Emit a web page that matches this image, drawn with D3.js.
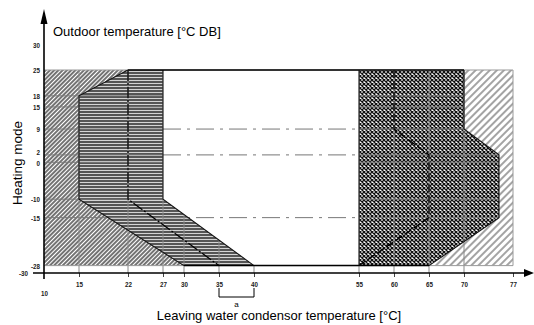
<!DOCTYPE html>
<html><head><meta charset="utf-8">
<script src="https://cdn.jsdelivr.net/npm/d3@7"></script>
<style>
html,body{margin:0;padding:0;background:#fff;}
svg{display:block;}
.tick text{font-family:"Liberation Sans",Arial,sans-serif;font-weight:bold;font-size:8px;fill:#1a1a1a;}
</style>
</head><body>
<svg id="chart" width="534" height="325"></svg>
<script>
// ---- data (chart units: x = leaving water temp °C, y = outdoor temp °C DB) ----
const xTicks = [10, 15, 22, 27, 30, 35, 40, 55, 60, 65, 70, 77];
const yTicks = [30, 25, 18, 15, 9, 2, 0, -10, -15, -28, -30];
const gridY = [18, 15, 9, 2, 0, -10, -15];
const gridX = [15, 22, 27, 30, 35, 40, 55, 60, 65, 70];
const dashDotY = [9, 2, -15];
const leftHatch = [[10,25],[22,25],[15,18],[15,-10],[30,-28],[10,-28]];
const striped   = [[22,25],[27,25],[27,-10],[40,-28],[30,-28],[15,-10],[15,18]];
const whiteZone = [[27,25],[55,25],[55,-28],[40,-28],[27,-10]];
const crossZone = [[55,25],[70,25],[70,9],[75,2],[75,-15],[65,-28],[55,-28]];
const rightHatch= [[70,25],[77,25],[77,-28],[65,-28],[75,-15],[75,2],[70,9]];
const lowLimitLine  = [[22,25],[22,-10],[35,-28]];
const highLimitLine = [[60,25],[60,9],[65,2],[65,-15],[55,-28]];
const stripedLeftEdge  = [[22,25],[15,18],[15,-10],[30,-28]];
const stripedRightEdge = [[27,25],[27,-10],[40,-28]];
const crossRightEdge   = [[70,25],[70,9],[75,2],[75,-15],[65,-28]];
const bracketRange = [35, 40];
const yTitle = "Outdoor temperature [°C DB]";
const xTitle = "Leaving water condensor temperature [°C]";
const sideTitle = "Heating mode";

// ---- scales ----
const xs = d3.scaleLinear().domain([10, 77]).range([44, 513]);
const ys = d3.scaleLinear().domain([-30, 25, 30]).range([273, 70, 45]);
const svg = d3.select("#chart");
const line = d3.line().x(d => xs(d[0])).y(d => ys(d[1]));
const poly = pts => line(pts) + "Z";
const fmt = d => String(d);   // plain hyphen minus like the reference
const SX = 0.78;              // condensed tick labels

// ---- patterns ----
const defs = svg.append("defs");
const pf = defs.append("pattern").attr("id","hatchFine").attr("patternUnits","userSpaceOnUse")
  .attr("width",3).attr("height",3).attr("patternTransform","rotate(45)");
pf.append("rect").attr("width",3).attr("height",3).attr("fill","#fff");
pf.append("line").attr("x1",1).attr("x2",1).attr("y1",0).attr("y2",3).attr("stroke","#000").attr("stroke-width",1.1);

const pw = defs.append("pattern").attr("id","hatchWide").attr("patternUnits","userSpaceOnUse")
  .attr("width",5).attr("height",5).attr("patternTransform","rotate(45)");
pw.append("rect").attr("width",5).attr("height",5).attr("fill","#fff");
pw.append("line").attr("x1",1).attr("x2",1).attr("y1",0).attr("y2",5).attr("stroke","#666").attr("stroke-width",1.2);

const ps = defs.append("pattern").attr("id","stripes").attr("patternUnits","userSpaceOnUse")
  .attr("width",6).attr("height",3);
ps.append("rect").attr("width",6).attr("height",3).attr("fill","#d4d4d4");
ps.append("rect").attr("width",6).attr("height",2).attr("fill","#555");

const pc = defs.append("pattern").attr("id","cross").attr("patternUnits","userSpaceOnUse")
  .attr("width",4).attr("height",4);
pc.append("rect").attr("width",4).attr("height",4).attr("fill","#fff");
pc.append("path").attr("d","M0,0L4,4M4,0L0,4").attr("stroke","#111").attr("stroke-width",1.3);

// ---- regions + grid ----
svg.append("path").attr("d", poly(leftHatch)).attr("fill","url(#hatchFine)");
svg.append("path").attr("d", poly(striped)).attr("fill","url(#stripes)");
svg.append("path").attr("d", poly(crossZone)).attr("fill","url(#cross)");

const gridH = svg.append("g").attr("stroke","#7a7a7a").attr("stroke-width",1);
gridH.selectAll("line").data(gridY).join("line")
  .attr("x1", xs(10)).attr("x2", xs(77)).attr("y1", d => ys(d)).attr("y2", d => ys(d));

svg.append("path").attr("d", poly(rightHatch)).attr("fill","url(#hatchWide)");

const gridV = svg.append("g").attr("stroke","#8a8a8a").attr("stroke-width",1);
gridV.selectAll("line").data(gridX).join("line")
  .attr("x1", d => xs(d)).attr("x2", d => xs(d)).attr("y1", ys(-30)).attr("y2", ys(25));

svg.append("path").attr("d", poly(whiteZone)).attr("fill","#fff");

svg.selectAll(".dd").data(dashDotY).join("line").attr("class","dd")
  .attr("x1", xs(27)).attr("x2", xs(55)).attr("y1", d => ys(d)).attr("y2", d => ys(d))
  .attr("stroke","#777").attr("stroke-width",1).attr("stroke-dasharray","18,6,3,6");

// ---- limit lines ----
svg.append("path").attr("d", line(lowLimitLine)).attr("fill","none")
  .attr("stroke","#000").attr("stroke-width",1.3).attr("stroke-dasharray","11,2,2,2");
svg.append("path").attr("d", line(highLimitLine)).attr("fill","none")
  .attr("stroke","#000").attr("stroke-width",1.3).attr("stroke-dasharray","8,3");

// ---- borders ----
svg.append("path").attr("d", line([[10,25],[77,25],[77,-28],[10,-28]])).attr("fill","none")
  .attr("stroke","#999").attr("stroke-width",1);
[stripedLeftEdge, stripedRightEdge, crossRightEdge].forEach(p =>
  svg.append("path").attr("d", line(p)).attr("fill","none").attr("stroke","#111").attr("stroke-width",1.1));
svg.append("path").attr("d", line([[22,25],[70,25]])).attr("stroke","#000").attr("stroke-width",1.5);
svg.append("path").attr("d", line([[30,-28],[65,-28]])).attr("stroke","#000").attr("stroke-width",1.5);
svg.append("path").attr("d", line([[55,25],[55,-28]])).attr("stroke","#111").attr("stroke-width",1.1);

// ---- axes ----
const xAxis = svg.append("g").attr("transform", `translate(0,${ys(-30)})`)
  .call(d3.axisBottom(xs).tickValues(xTicks).tickSize(4).tickPadding(4).tickFormat(fmt));
xAxis.select(".domain").remove();
xAxis.selectAll(".tick line").attr("stroke","#444");
xAxis.selectAll(".tick text").attr("transform", `scale(${SX},1)`);
xAxis.selectAll(".tick").filter(d => d === 10).select("text").attr("dy","1.9em");
xAxis.selectAll(".tick").filter(d => d === 10).select("line").remove();

const yAxis = svg.append("g").attr("transform", `translate(${xs(10)},0)`)
  .call(d3.axisLeft(ys).tickValues(yTicks).tickSize(0).tickPadding(4).tickFormat(fmt));
yAxis.select(".domain").remove();
yAxis.selectAll(".tick text").attr("transform", `scale(${SX},1)`).attr("x", -4 / SX);
yAxis.selectAll(".tick").filter(d => d === -30).select("text").attr("x", -16 / SX);
yAxis.selectAll(".tick").filter(d => d === 2).select("text").attr("y", -2.6);
yAxis.selectAll(".tick").filter(d => d === 0).select("text").attr("y", 0.4);

svg.append("line").attr("x1", 33).attr("x2", 528).attr("y1", ys(-30)).attr("y2", ys(-30))
  .attr("stroke","#000").attr("stroke-width",1.6);
svg.append("line").attr("x1", xs(10)).attr("x2", xs(10)).attr("y1", ys(-30) + 6).attr("y2", 20)
  .attr("stroke","#000").attr("stroke-width",1.6);
svg.append("path").attr("d", `M${xs(10)},9L${xs(10)-3.5},24L${xs(10)+3.5},24Z`).attr("fill","#000");
svg.append("path").attr("d", `M534,${ys(-30)}L524,${ys(-30)-4}L524,${ys(-30)+4}Z`).attr("fill","#000");

// ---- bracket "a" ----
svg.append("path").attr("d", `M${xs(bracketRange[0])},288V297H${xs(bracketRange[1])}V288`)
  .attr("fill","none").attr("stroke","#000").attr("stroke-width",1);
svg.append("text").attr("x", xs(d3.mean(bracketRange))).attr("y", 307).attr("text-anchor","middle")
  .attr("font-family","Liberation Sans, Arial, sans-serif").attr("font-size",8).text("a");

// ---- titles ----
const tf = "Liberation Sans, Arial, sans-serif";
svg.append("text").attr("x", 53).attr("y", 36).attr("font-family", tf).attr("font-size", 13).text(yTitle);
svg.append("text").attr("x", 279).attr("y", 320).attr("text-anchor","middle").attr("font-family", tf)
  .attr("font-size", 13).text(xTitle);
svg.append("text").attr("transform","translate(22,163) rotate(-90)").attr("text-anchor","middle")
  .attr("font-family", tf).attr("font-size", 13.5).text(sideTitle);
</script>
</body></html>
